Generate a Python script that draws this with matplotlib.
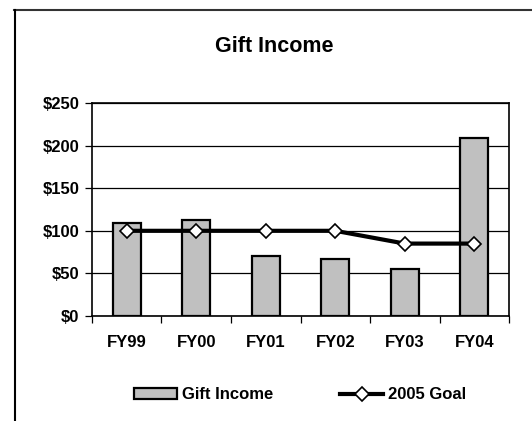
import matplotlib.pyplot as plt
from matplotlib.lines import Line2D
import numpy as np

# Chart data
years = ["FY99", "FY00", "FY01", "FY02", "FY03", "FY04"]
gift_income = [109, 113, 70, 67, 55, 209]
goal_2005 = [100, 100, 100, 100, 85, 85]
y_ticks = [0, 50, 100, 150, 200, 250]

plt.rcParams['font.family'] = ['Liberation Sans', 'DejaVu Sans']
plt.rcParams['font.weight'] = 'bold'

fig = plt.figure(figsize=(5.32, 4.21), dpi=100)
ax = fig.add_axes([0.1729, 0.2494, 0.7839, 0.5059])

x = np.arange(len(years))
ax.bar(x, gift_income, width=0.4, color='#c0c0c0', edgecolor='black',
       linewidth=1.6, zorder=2, label='Gift Income')
ax.plot(x, goal_2005, color='black', linewidth=3, marker='D', markersize=7,
        markerfacecolor='white', markeredgecolor='black', markeredgewidth=1.2,
        zorder=3, label='2005 Goal')

ax.set_xlim(-0.5, len(years) - 0.5)
ax.set_ylim(0, 250)
ax.set_yticks(y_ticks)
ax.set_yticklabels([f"${v}" for v in y_ticks], fontsize=12, fontweight='bold')
ax.yaxis.grid(True, color='black', linewidth=0.9, zorder=0)
ax.set_axisbelow(True)

# category labels at centers, tick marks at boundaries
ax.set_xticks(x)
ax.set_xticklabels(years, fontsize=12, fontweight='bold')
ax.tick_params(axis='x', length=0, pad=14)
ax.set_xticks(np.arange(-0.5, len(years)), minor=True)
ax.tick_params(axis='x', which='minor', length=5, direction='out', width=0.9)
ax.tick_params(axis='y', length=5, direction='out', width=0.9, pad=4)

for s in ax.spines.values():
    s.set_linewidth(1.2)
    s.set_color('black')

# title sits a little left of the plot centre, as in the original
fig.text(274 / 532, 1 - 46 / 421, "Gift Income", fontsize=15.5,
         fontweight='bold', ha='center', va='center')

# legend below the plot
handles = [
    plt.Rectangle((0, 0), 1, 1, facecolor='#c0c0c0', edgecolor='black', linewidth=1.6),
    Line2D([], [], color='black', linewidth=3, marker='D', markersize=7,
           markerfacecolor='white', markeredgecolor='black', markeredgewidth=1.2),
]
fig.legend(handles, ["Gift Income", "2005 Goal"], loc='center',
           bbox_to_anchor=(0.564, 0.062), ncol=2, frameon=False,
           prop={'size': 12, 'weight': 'bold'}, handlelength=2.6,
           handletextpad=0.3, columnspacing=4.0)

# partial outer frame (top and left edges)
fig.add_artist(Line2D([14 / 532, 1], [1 - 10 / 421, 1 - 10 / 421],
                      transform=fig.transFigure, color='#333333', linewidth=1.5))
fig.add_artist(Line2D([15 / 532, 15 / 532], [0, 1 - 10 / 421],
                      transform=fig.transFigure, color='black', linewidth=1.5))

fig.savefig("out.png", dpi=100)
